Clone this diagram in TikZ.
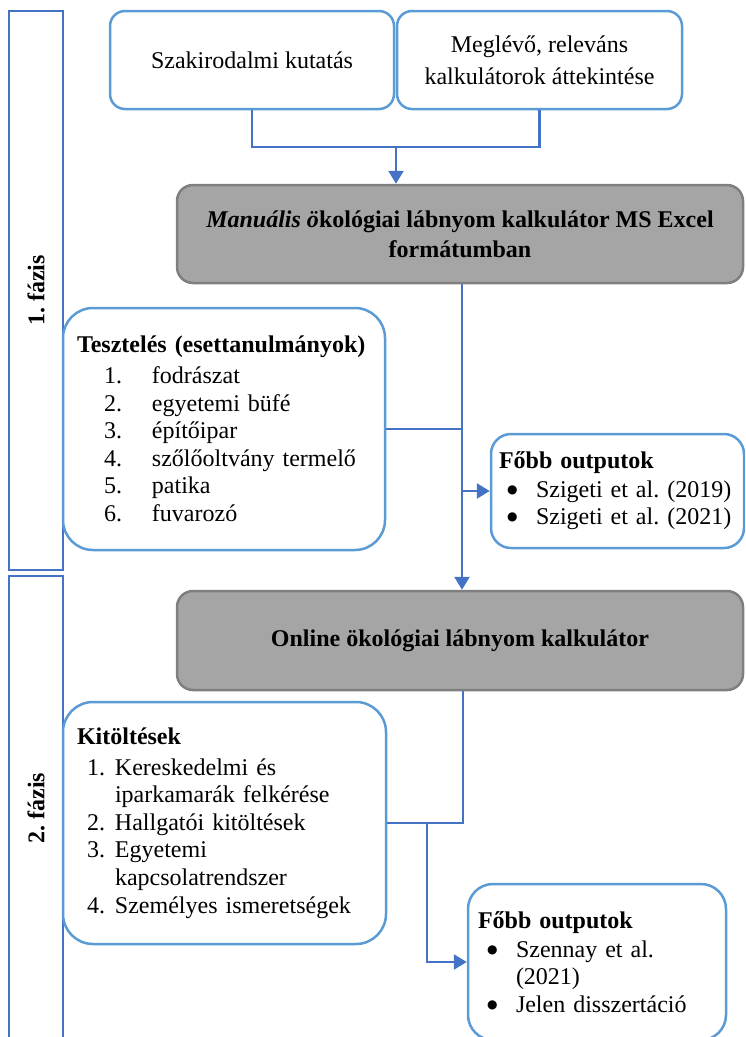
\documentclass[tikz,border=0pt]{standalone}
\usepackage{fontspec}
\setmainfont{Liberation Serif}
\newfontfamily\symfont{DejaVu Sans}
\usetikzlibrary{arrows.meta}
\definecolor{boxblue}{HTML}{5B9BD5}
\definecolor{linkblue}{HTML}{4472C4}
\definecolor{calcgray}{HTML}{A5A5A5}
\definecolor{calcedge}{HTML}{7F7F7F}
\newcommand{\txt}[1]{\fontsize{24}{#1}\selectfont\frenchspacing}
\newcommand{\numitem}[3]{\hspace*{#1}\makebox[#2][l]{#3}}
\newcommand{\bigdot}{\raisebox{4pt}{\symfont\fontsize{12}{12}\selectfont ●}}

\begin{document}
\begin{tikzpicture}[x=1pt,y=-1pt,
  phasebar/.style={draw=linkblue, line width=2.5pt, inner sep=0pt, rotate=90,
    minimum height=54pt, font=\bfseries\txt{28}},
  srcbox/.style={draw=boxblue, line width=2.5pt, rounded corners=15pt, fill=white,
    align=center, inner sep=0pt, minimum height=98pt, font=\txt{32}},
  calcbox/.style={draw=calcedge, fill=calcgray, line width=2.5pt, rounded corners=16pt,
    align=center, inner sep=0pt, minimum width=566pt, font=\bfseries\txt{30}},
  listbox/.style={draw=boxblue, line width=2.5pt, fill=white, align=left,
    inner ysep=0pt, font=\txt{27.6}},
  link/.style={draw=linkblue, line width=2.6pt},
  arrow/.style={link, -{Triangle[length=13pt,width=15pt]}}]

\clip (0,0) rectangle (745,1037);

% phase bars on the left
\node[phasebar, minimum width=559pt] (ph1) at (36,290.5) {1. fázis};
\node[phasebar, minimum width=464pt] (ph2) at (36,808) {2. fázis};

% sources
\node[srcbox, minimum width=284pt] (lit) at (252,60) {Szakirodalmi kutatás};
\node[srcbox, minimum width=285pt] (calc) at (539.5,60)
  {Meglévő, releváns\\kalkulátorok áttekintése};

% calculators
\node[calcbox, minimum height=98pt] (excel) at (460,234)
  {\textit{Manuális ö}kológiai lábnyom kalkulátor MS Excel\\formátumban};
\node[calcbox, minimum height=99pt] (online) at (460,640.5)
  {Online ökológiai lábnyom kalkulátor};

% testing
\node[listbox, rounded corners=30pt, inner xsep=14pt, text width=294pt,
  minimum height=242pt] (test) at (224,429)
  {\mbox{\textbf{Tesztelés (esettanulmányok)}}\\[3pt]
   \numitem{27pt}{48pt}{1.}fodrászat\\
   \numitem{27pt}{48pt}{2.}egyetemi büfé\\
   \numitem{27pt}{48pt}{3.}építőipar\\
   \numitem{27pt}{48pt}{4.}szőlőoltvány termelő\\
   \numitem{27pt}{48pt}{5.}patika\\
   \numitem{27pt}{48pt}{6.}fuvarozó};

% outputs of phase 1
\node[listbox, rounded corners=20pt, inner xsep=8pt, text width=237pt,
  minimum height=114pt] (out1) at (617.5,491)
  {\textbf{Főbb outputok}\\[1pt]
   \numitem{8pt}{29pt}{\bigdot}Szigeti et al. (2019)\\
   \numitem{8pt}{29pt}{\bigdot}Szigeti et al. (2021)};

% data collection
\node[listbox, rounded corners=30pt, inner xsep=14pt, text width=295pt,
  minimum height=242pt] (fill) at (224.5,823)
  {\textbf{Kitöltések}\\[3pt]
   \numitem{10pt}{28pt}{1.}Kereskedelmi és\\
   \numitem{38pt}{0pt}{}iparkamarák felkérése\\
   \numitem{10pt}{28pt}{2.}Hallgatói kitöltések\\
   \numitem{10pt}{28pt}{3.}Egyetemi\\
   \numitem{38pt}{0pt}{}kapcsolatrendszer\\
   \numitem{10pt}{28pt}{4.}Személyes ismeretségek};

% outputs of phase 2
\node[listbox, rounded corners=25pt, inner xsep=10pt, text width=238pt,
  minimum height=156pt] (out2) at (597,962)
  {\textbf{Főbb outputok}\\[1pt]
   \numitem{9pt}{29pt}{\bigdot}Szennay et al.\\
   \numitem{38pt}{0pt}{}(2021)\\
   \numitem{9pt}{29pt}{\bigdot}Jelen disszertáció};

% connectors
\coordinate (join1) at (396,147);
\coordinate (spine1) at (462,429);
\coordinate (spine2) at (463,823);
\coordinate (branch2) at (427,823);

\draw[link] (lit.south) -- (lit.south |- join1) -| (calc.south);
\draw[arrow] (join1) -- (join1 |- excel.north);

\draw[link] (excel.south -| spine1) -- (spine1);
\draw[link] (test.east) -- (spine1);
\draw[arrow] (spine1) -- (spine1 |- online.north);
\draw[arrow] (spine1) |- (out1.west);

\draw[link] (online.south -| spine2) -- (spine2) -- (fill.east);
\draw[arrow] (branch2) |- (out2.west);

\end{tikzpicture}
\end{document}
